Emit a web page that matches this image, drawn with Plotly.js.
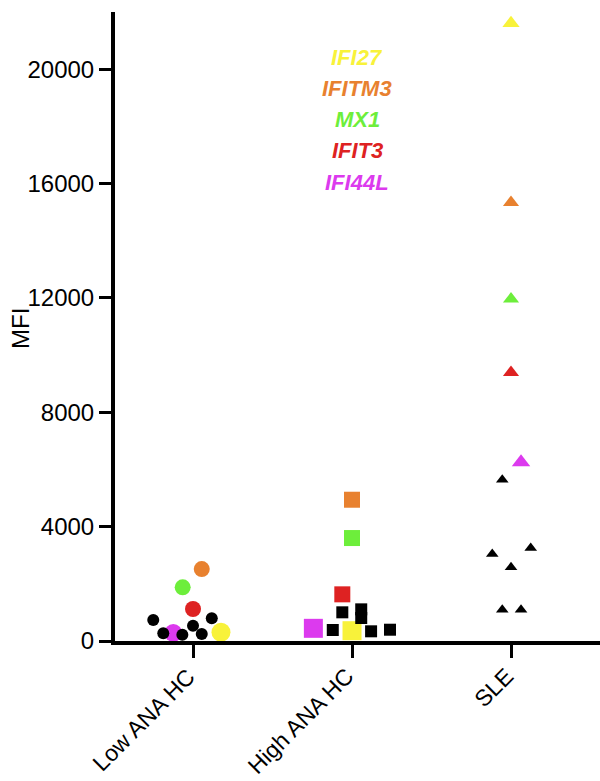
<!DOCTYPE html>
<html><head><meta charset="utf-8">
<script src="https://cdn.plot.ly/plotly-3.0.1.min.js"></script>
<style>html,body{margin:0;padding:0;background:#fff}</style>
</head><body><div id="chart" style="width:600px;height:781px"></div>
<script>
// ---- data ----
const groups = ['Low ANA HC', 'High ANA HC', 'SLE'];
const genes = ['IFI27', 'IFITM3', 'MX1', 'IFIT3', 'IFI44L'];
const geneColors = ['#F8F23A', '#E8812F', '#6DEE3B', '#DE2222', '#DC3AEE'];
const yTicks = [0, 4000, 8000, 12000, 16000, 20000];
const yTickText = ['0', '4000', '8000', '12000', '16000', '20000'];
// MFI of each gene (order as genes) per group
const lowGeneMFI  = [304, 2517, 1877, 1119, 280];
const highGeneMFI = [360, 4941, 3601, 1632, 443];
const sleGeneMFI  = [21608, 15339, 11958, 9395, 6248];
// other (black) points per group
const lowOtherMFI  = [734, 793, 535, 269, 220, 245];
const highOtherMFI = [1003, 1107, 804, 385, 339, 395];
const sleOtherMFI  = [5640, 3042, 3252, 2577, 1094, 1094];
// horizontal scatter offsets within each group (category units)
const lowGeneJitter  = [0.176, 0.055, -0.065, 0, -0.124];
const highGeneJitter = [0, 0, 0, -0.061, -0.243];
const sleGeneJitter  = [0, 0, 0, 0, 0.063];
const lowOtherJitter  = [-0.25, 0.118, 0, -0.187, -0.067, 0.055];
const highOtherJitter = [-0.061, 0.058, 0.058, -0.121, 0.12, 0.239];
const sleOtherJitter  = [-0.055, -0.118, 0.124, 0, -0.055, 0.063];

// ---- styles ----
const groupSymbols = ['circle', 'square', 'triangle-up'];
const geneSizes = [[19, 19, 15], [16, 16, 14], [16, 16, 14], [16, 16, 14], [18, 19, 16]];
const otherSizes = [12, 12, 11];
const FONT = 'Liberation Sans, Arial, Helvetica, sans-serif';

const traces = [];
const geneMFI = [lowGeneMFI, highGeneMFI, sleGeneMFI];
const geneJit = [lowGeneJitter, highGeneJitter, sleGeneJitter];
genes.forEach((g, gi) => {
  traces.push({
    type: 'scatter', mode: 'markers', name: g, cliponaxis: false,
    x: groups.map((_, k) => k + geneJit[k][gi]),
    y: groups.map((_, k) => geneMFI[k][gi]),
    marker: { symbol: groupSymbols, size: geneSizes[gi], color: geneColors[gi], opacity: 1, line: { width: 0 } },
    hoverinfo: 'y+name'
  });
});
const otherMFI = [lowOtherMFI, highOtherMFI, sleOtherMFI];
const otherJit = [lowOtherJitter, highOtherJitter, sleOtherJitter];
otherMFI.forEach((vals, k) => {
  traces.push({
    type: 'scatter', mode: 'markers', name: groups[k], cliponaxis: false,
    x: vals.map((_, i) => k + otherJit[k][i]),
    y: vals,
    marker: { symbol: groupSymbols[k], size: otherSizes[k], color: '#000000', opacity: 1, line: { width: 0 } },
    hoverinfo: 'y'
  });
});

const legendY = [57, 88.5, 119.5, 150.5, 182];
const annotations = genes.map((g, gi) => ({
  xref: 'paper', yref: 'paper',
  x: (357 - 115) / 485, y: (641 - legendY[gi]) / 629,
  xanchor: 'center', yanchor: 'middle', showarrow: false,
  text: g,
  font: { family: FONT, size: 22, color: geneColors[gi], weight: 'bold', style: 'italic' }
}));
// category labels (rotated, ending at the tick)
groups.forEach((g, k) => {
  annotations.push({
    xref: 'x', yref: 'paper', x: k, y: 0,
    xshift: 8, yshift: -21,
    xanchor: 'right', yanchor: 'top', showarrow: false,
    textangle: -45, text: g, borderpad: 0,
    font: { family: FONT, size: 23, color: '#000' }
  });
});
// y axis title
annotations.push({
  xref: 'paper', yref: 'paper', x: (20 - 115) / 485, y: (641 - 329) / 629,
  xanchor: 'center', yanchor: 'middle', showarrow: false,
  textangle: -90, text: 'MFI',
  font: { family: FONT, size: 24, color: '#000' }
});

const layout = {
  width: 600, height: 781,
  margin: { l: 115, r: 0, t: 12, b: 140 },
  paper_bgcolor: '#ffffff', plot_bgcolor: '#ffffff',
  showlegend: false,
  font: { family: FONT, color: '#000' },
  xaxis: {
    range: [-0.4906, 2.5597],
    tickvals: [0, 1, 2], ticktext: groups, showticklabels: false,
    showline: true, linewidth: 4, linecolor: '#000',
    ticks: 'outside', ticklen: 13, tickwidth: 3, tickcolor: '#000',
    showgrid: false, zeroline: false
  },
  yaxis: {
    range: [0, 22000],
    tickvals: yTicks, ticktext: yTickText,
    tickfont: { family: FONT, size: 24, color: '#000' },
    showline: true, linewidth: 4, linecolor: '#000',
    ticks: 'outside', ticklen: 12, tickwidth: 3, tickcolor: '#000',
    showgrid: false, zeroline: false
  },
  annotations: annotations
};

Plotly.newPlot('chart', traces, layout, { displayModeBar: false, staticPlot: true });
</script>
</body></html>
